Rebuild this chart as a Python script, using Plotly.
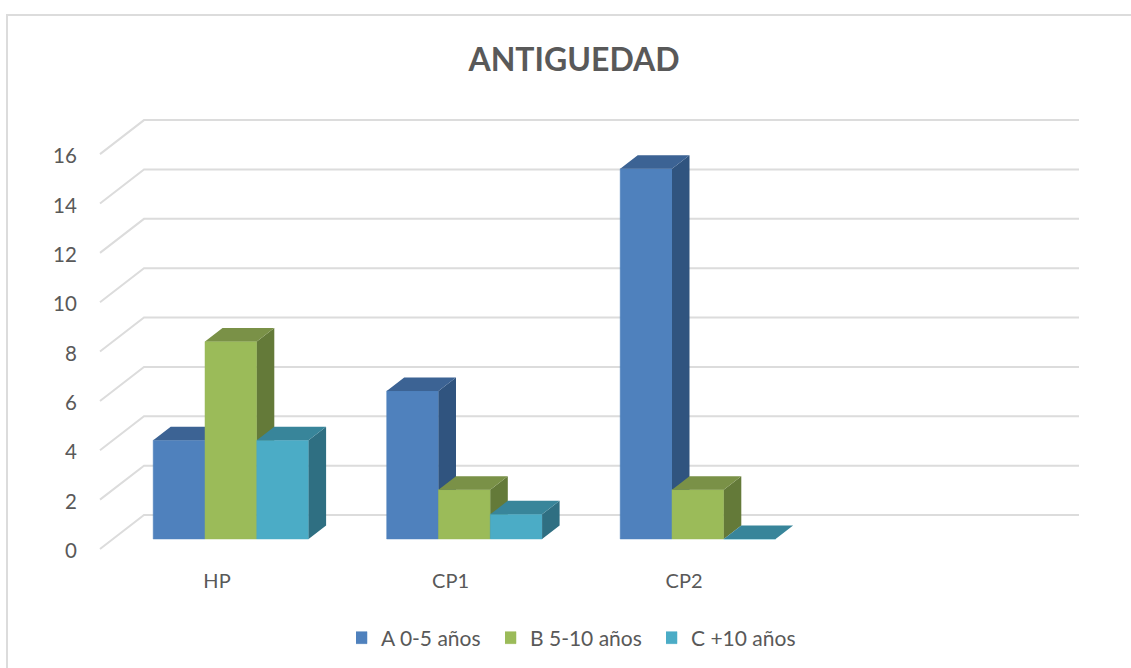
import plotly.graph_objects as go

CATEGORIES = ["HP", "CP1", "CP2", ""]
SERIES_A = [4, 6, 15]
SERIES_B = [8, 2, 2]
SERIES_C = [4, 1, 0]
NAMES = ["A 0-5 años", "B 5-10 años", "C +10 años"]
Y_TICKS = list(range(0, 17, 2))
TITLE = "ANTIGUEDAD"

FRONT = ["#4F81BD", "#9BBB59", "#4BACC6"]
TOP = ["#3C6394", "#7A9147", "#38859A"]
SIDE = ["#30547F", "#647A39", "#2F6F82"]
GRID = "#DCDCDC"
TEXT = "#595959"
FONT = "Lato"

W, H = 1131, 668
L, R, T, B = 98, 1083, 116, 552
PX_CAT, PX_UNIT = 233.5, 24.68
CAT0_PX, GRID0_PX, BAR0_PX = 217.0, 549.0, 539.0
GRID_DX, GRID_DY = 44 / PX_CAT, 34 / PX_UNIT
BAR_DX, BAR_DY = 17.5 / PX_CAT, 13.5 / PX_UNIT
BAR_W = 51.8 / PX_CAT
OFFSETS = [(153.2 - CAT0_PX) / PX_CAT + i * BAR_W for i in range(3)]
AXIS_LEFT = (100 - CAT0_PX) / PX_CAT
AXIS_RIGHT = (1079 - CAT0_PX) / PX_CAT
LEGEND_X_PX = [356, 505, 666]

x_range = [(L - CAT0_PX) / PX_CAT, (R - CAT0_PX) / PX_CAT]
y_range = [(GRID0_PX - B) / PX_UNIT, (GRID0_PX - T) / PX_UNIT]
bar_y_range = [(BAR0_PX - B) / PX_UNIT, (BAR0_PX - T) / PX_UNIT]


def paper_x(px):
    return (px - L) / (R - L)


def paper_y(py):
    return (B - py) / (B - T)


fig = go.Figure()
# keeps the primary axes alive; they carry the tick labels
fig.add_trace(go.Scatter(x=[0, 1, 2, 3], y=[None] * 4, mode="lines", showlegend=False, hoverinfo="skip"))

cats = list(range(len(CATEGORIES)))
legend_ids = ["legend", "legend2", "legend3"]
for i, values in enumerate([SERIES_A, SERIES_B, SERIES_C]):
    ax = str(i + 2)
    xa, ya = "x" + ax, "y" + ax
    fig.add_trace(go.Bar(
        x=cats[:3], y=values, name=NAMES[i], width=BAR_W, offset=OFFSETS[i],
        marker=dict(color=FRONT[i], line=dict(color=FRONT[i], width=0.5)),
        xaxis=xa, yaxis=ya, legend=legend_ids[i], showlegend=True,
    ))
    sx, sy, tx, ty = [], [], [], []
    for c, v in zip(cats, values):
        xl = c + OFFSETS[i]
        xr = xl + BAR_W
        sx += [xr, xr + BAR_DX, xr + BAR_DX, xr, xr, None]
        sy += [0, BAR_DY, v + BAR_DY, v, 0, None]
        tx += [xl, xl + BAR_DX, xr + BAR_DX, xr, xl, None]
        ty += [v, v + BAR_DY, v + BAR_DY, v, v, None]
    fig.add_trace(go.Scatter(x=sx, y=sy, fill="toself", fillcolor=SIDE[i], mode="none",
                             xaxis=xa, yaxis=ya, showlegend=False, hoverinfo="skip"))
    fig.add_trace(go.Scatter(x=tx, y=ty, fill="toself", fillcolor=TOP[i], mode="none",
                             xaxis=xa, yaxis=ya, showlegend=False, hoverinfo="skip"))

shapes = []
for t in Y_TICKS:
    path = (f"M {AXIS_LEFT},{t} L {AXIS_LEFT + GRID_DX},{t + GRID_DY} "
            f"L {AXIS_RIGHT},{t + GRID_DY}")
    shapes.append(dict(type="path", path=path, xref="x", yref="y", layer="below",
                       line=dict(color=GRID, width=2)))
# chart frame: left and top edges only are inside the picture
frame = (f"M {paper_x(7)},{paper_y(H + 5)} L {paper_x(7)},{paper_y(15)} "
         f"L {paper_x(W + 5)},{paper_y(15)}")
shapes.append(dict(type="path", path=frame, xref="paper", yref="paper", layer="below",
                   line=dict(color=GRID, width=2)))

layout = dict(
    width=W, height=H, autosize=False,
    margin=dict(l=L, r=W - R, t=T, b=H - B, pad=0),
    paper_bgcolor="white", plot_bgcolor="rgba(0,0,0,0)",
    barmode="overlay",
    font=dict(family=FONT, color=TEXT, size=20),
    title=dict(text=f"<b>{TITLE}</b>", x=574 / W, xanchor="center", xref="container",
               y=1 - 60 / H, yanchor="middle", yref="container",
               font=dict(family=FONT, size=32, color=TEXT)),
    shapes=shapes,
    showlegend=True,
    xaxis=dict(range=x_range, tickmode="array", tickvals=cats, ticktext=CATEGORIES,
               showgrid=False, zeroline=False, showline=False,
               ticks="outside", ticklen=11, tickcolor="rgba(0,0,0,0)",
               tickfont=dict(family=FONT, size=20, color=TEXT)),
    yaxis=dict(range=y_range, tickmode="array", tickvals=Y_TICKS,
               showgrid=False, zeroline=False, showline=False,
               ticks="outside", ticklen=16, tickcolor="rgba(0,0,0,0)",
               ticklabelshift=2,
               tickfont=dict(family=FONT, size=20.5, color=TEXT)),
)
for i, lid in enumerate(legend_ids):
    layout[lid] = dict(orientation="h", x=LEGEND_X_PX[i] / W, xref="container", xanchor="left",
                       y=1 - 638 / H, yref="container", yanchor="middle",
                       font=dict(family=FONT, size=21, color=TEXT), indentation=-15,
                       bgcolor="rgba(0,0,0,0)")
for i in range(3):
    ax = str(i + 2)
    layout["xaxis" + ax] = dict(range=x_range, overlaying="x", anchor="y" + ax, visible=False, fixedrange=True)
    layout["yaxis" + ax] = dict(range=bar_y_range, overlaying="y", anchor="x" + ax, visible=False, fixedrange=True)

fig.update_layout(**layout)
fig.write_html(
    "out.html",
    config={"displayModeBar": False},
    post_script="document.body.style.margin='0';document.documentElement.style.overflow='hidden';",
)
